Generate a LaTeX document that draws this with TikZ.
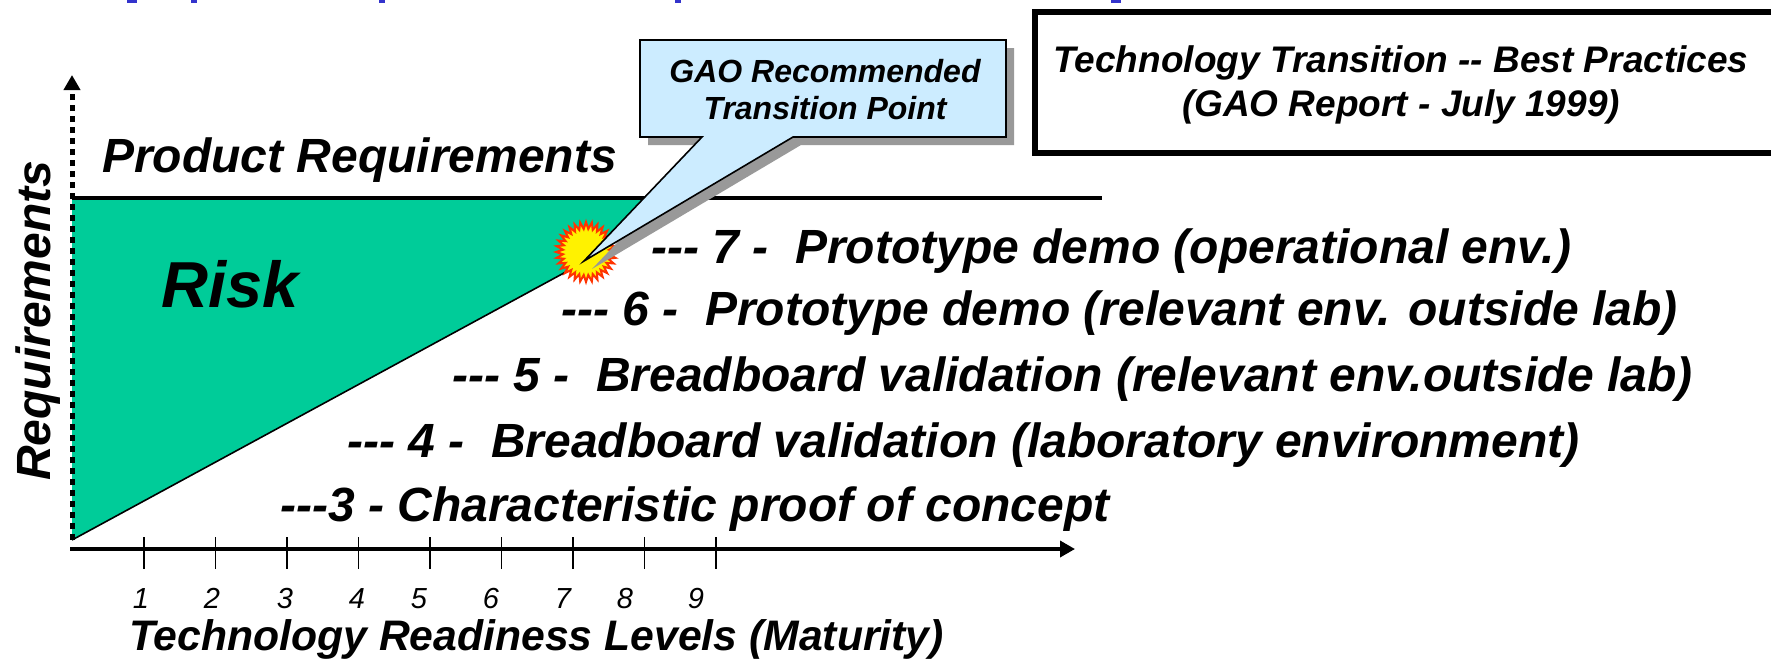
\documentclass[tikz,border=0pt]{standalone}
\usepackage{fontspec}
\setmainfont{Liberation Sans}
\usepackage{tikz}
\usetikzlibrary{arrows.meta,shapes,calc,positioning}
\definecolor{riskgreen}{HTML}{00CC99}
\definecolor{callblue}{HTML}{CCECFF}
\definecolor{shadowgray}{HTML}{999999}
\definecolor{burstred}{HTML}{FF3300}
\definecolor{headblue}{HTML}{3333CC}
\tikzstyle{label}  =[inner sep=0pt, anchor=base west, font=\bfseries\itshape]
\tikzstyle{level}  =[label, font=\fontsize{48}{52}\selectfont\bfseries\itshape]
\tikzstyle{number} =[inner sep=0pt, anchor=base, font=\fontsize{29}{32}\selectfont\itshape]
\tikzstyle{axis}   =[-{Triangle[length=15pt, width=16pt]}, line width=3.5pt]
\tikzstyle{tick}   =[line width=1.5pt]
\tikzstyle{frag}   =[fill=headblue, draw=none]
\begin{document}
\begin{tikzpicture}[x=1pt, y=-1pt, node distance=1pt, on grid]
            \clip (0,0) rectangle (1771,659);
            \begin{scope}
                \fill[frag] (127,0) rectangle (137,2.5);
                \fill[frag] (191,0) rectangle (197,2.5);
                \fill[frag] (379,0) rectangle (385,2.5);
                \fill[frag] (675,0) rectangle (681,2.5);
                \fill[frag] (1111,0) rectangle (1121,2.5);
            \end{scope}
            \begin{scope}
                \coordinate (a) at (72,198);
                \coordinate (b) at (645,198);
                \coordinate (c) at (586,261);
                \coordinate (d) at (72,540);
                \coordinate (e) at (1102,198);
                \coordinate (ytop) at (72,75);
                \coordinate (xorig) at (70,549);
                \coordinate (xend) at (1075,549);
                \fill[riskgreen] (a) -- (b) -- (c) -- (d) -- cycle;
                \draw[line width=1.6pt] (c) to (d);
                \draw[line width=3.2pt] (a) to (e);
                \draw[axis, dash pattern=on 6pt off 5pt, line width=5pt] (d) to (ytop);
                \draw[axis] (xorig) to (xend);
                \coordinate (t1) at (144,537);
                \coordinate[right=71.5pt of t1] (t2);
                \coordinate[right=71.5pt of t2] (t3);
                \coordinate[right=71.5pt of t3] (t4);
                \coordinate[right=71.5pt of t4] (t5);
                \coordinate[right=71.5pt of t5] (t6);
                \coordinate[right=71.5pt of t6] (t7);
                \coordinate[right=71.5pt of t7] (t8);
                \coordinate[right=71.5pt of t8] (t9);
                \draw[tick] (t1) to ++(0,32);
                \draw[tick] (t2) to ++(0,32);
                \draw[tick] (t3) to ++(0,32);
                \draw[tick] (t4) to ++(0,32);
                \draw[tick] (t5) to ++(0,32);
                \draw[tick] (t6) to ++(0,32);
                \draw[tick] (t7) to ++(0,32);
                \draw[tick] (t8) to ++(0,32);
                \draw[tick] (t9) to ++(0,32);
                \node (n1) [number] at (141,608) {1};
                \node (n2) [number] at (212,608) {2};
                \node (n3) [number] at (285,608) {3};
                \node (n4) [number] at (357,608) {4};
                \node (n5) [number] at (419,608) {5};
                \node (n6) [number] at (491,608) {6};
                \node (n7) [number] at (563,608) {7};
                \node (n8) [number] at (625,608) {8};
                \node (n9) [number] at (696,608) {9};
            \end{scope}
            \node (burst) [star, star points=32, star point ratio=1.3, draw=burstred,
                fill=yellow, line width=2pt, minimum size=60pt, inner sep=0pt] at (586,252) {};
            \begin{scope}
                \coordinate (p) at (584,261);
                \coordinate (q) at (702,137);
                \coordinate (r) at (640,137);
                \coordinate (s) at (640,40);
                \coordinate (u) at (1006,40);
                \coordinate (v) at (1006,137);
                \coordinate (w) at (793,137);
                \fill[shadowgray] ($(p)+(8,8)$) -- ($(q)+(8,8)$) -- ($(r)+(8,8)$) -- ($(s)+(8,8)$)
                    -- ($(u)+(8,8)$) -- ($(v)+(8,8)$) -- ($(w)+(8,8)$) -- cycle;
                \draw[fill=callblue, line width=1.6pt] (p) -- (q) -- (r) -- (s) -- (u) -- (v) -- (w) -- cycle;
                \node (call) [inner sep=0pt, align=center,
                    font=\fontsize{32}{37}\selectfont\bfseries\itshape] at (825,90)
                    {GAO Recommended\\Transition Point};
            \end{scope}
            \draw[line width=6pt] (1035,12) rectangle (1800,153);
            \node (title) [inner sep=0pt, align=center,
                font=\fontsize{37}{44}\selectfont\bfseries\itshape] at (1401,85)
                {Technology Transition {-}{-} Best Practices\\(GAO Report - July 1999)};
            \node (prod) [label, font=\fontsize{48}{52}\selectfont\bfseries\itshape] at (102,172) {Product Requirements};
            \node (req) [label, rotate=90, font=\fontsize{48}{52}\selectfont\bfseries\itshape] at (50,481) {Requirements};
            \node (risk) [label, font=\fontsize{65}{70}\selectfont\bfseries\itshape] at (161,307) {Risk};
            \node (l7) [level] at (651,263) {{-}{-}{-} 7 -\ \ Prototype demo (operational env.)};
            \node (l6) [level] at (561,325) {{-}{-}{-} 6 -\ \ Prototype demo (relevant env. outside lab)};
            \node (l5) [level] at (452,391) {{-}{-}{-} 5 -\ \ Breadboard validation (relevant env.outside lab)};
            \node (l4) [level] at (347,457) {{-}{-}{-} 4 -\ \ Breadboard validation (laboratory environment)};
            \node (l3) [level] at (280,521) {{-}{-}{-}3 - Characteristic proof of concept};
            \node (xlab) [label, font=\fontsize{42.7}{46}\selectfont\bfseries\itshape] at (129,650) {Technology Readiness Levels (Maturity)};
        \end{tikzpicture}
\end{document}
